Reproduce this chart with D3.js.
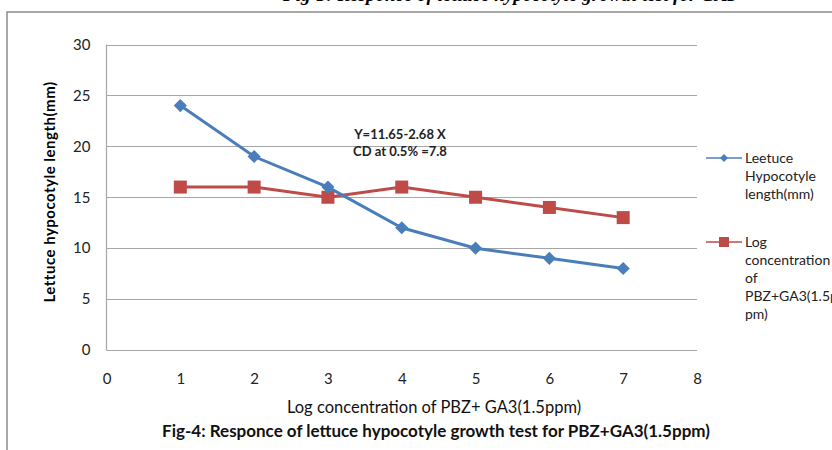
<!DOCTYPE html>
<html>
<head>
<meta charset="utf-8">
<script src="https://cdn.jsdelivr.net/npm/d3@7"></script>
<style>
  body { margin: 0; background: #fff; }
  text { font-family: Lato, "Open Sans", sans-serif; }
</style>
</head>
<body>
<div id="chart"></div>
<script>
const xValues = [1, 2, 3, 4, 5, 6, 7];
const lettuceLength = [24, 19, 16, 12, 10, 9, 8];
const logConc = [16, 16, 15, 16, 15, 14, 13];
const xTicks = [0, 1, 2, 3, 4, 5, 6, 7, 8];
const yTicks = [0, 5, 10, 15, 20, 25, 30];
const legendBlue = ["Leetuce", "Hypocotyle", "length(mm)"];
const legendRed = ["Log", "concentration", "of", "PBZ+GA3(1.5p", "pm)"];
const annotation = ["Y=11.65-2.68 X", "CD at 0.5% =7.8"];

const width = 832, height = 450;
const blue = "#4a7ebb", red = "#be4b48";

const svg = d3.select("#chart").append("svg")
  .attr("width", width)
  .attr("height", height);

// heading of the page above, mostly cut off
svg.append("text")
  .attr("x", 510).attr("y", 0.5)
  .attr("text-anchor", "middle")
  .style("font-family", "'Liberation Serif', serif")
  .style("font-style", "italic")
  .style("font-weight", "bold")
  .style("font-size", "19px")
  .text("Fig-3: Responce of lettuce hypocotyle growth test for GA3");

// outer frame
svg.append("path")
  .attr("d", `M7,${height} V12 H${width}`)
  .attr("fill", "none")
  .attr("stroke", "#8c8c8c")
  .attr("stroke-width", 1.5);

const x = d3.scaleLinear().domain([0, 8]).range([106.5, 697]);
const y = d3.scaleLinear().domain([0, 30]).range([350, 44.5]);

// gridlines
svg.append("g")
  .selectAll("line")
  .data(yTicks)
  .join("line")
  .attr("x1", x(0)).attr("x2", x(8))
  .attr("y1", d => Math.round(y(d)) + 0.5)
  .attr("y2", d => Math.round(y(d)) + 0.5)
  .attr("stroke", "#a6a6a6")
  .attr("stroke-width", 1.2);

svg.append("line")
  .attr("x1", x(0)).attr("x2", x(0))
  .attr("y1", y(30)).attr("y2", y(0))
  .attr("stroke", "#a6a6a6")
  .attr("stroke-width", 1.2);

// axes, labels only
const yAxis = svg.append("g")
  .attr("transform", `translate(${x(0)},0)`)
  .call(d3.axisLeft(y).tickValues(yTicks).tickSize(0).tickPadding(16));
yAxis.select(".domain").remove();
yAxis.selectAll(".tick text")
  .style("font-family", "Lato, sans-serif")
  .style("font-size", "15px")
  .attr("fill", "#222");

const xAxis = svg.append("g")
  .attr("transform", `translate(0,${y(0)})`)
  .call(d3.axisBottom(x).tickValues(xTicks).tickSize(0).tickPadding(23));
xAxis.select(".domain").remove();
xAxis.selectAll(".tick text")
  .style("font-family", "Lato, sans-serif")
  .style("font-size", "15px")
  .attr("fill", "#222");

// series
const line = d3.line().x(d => x(d[0])).y(d => y(d[1]));
const bluePts = xValues.map((v, i) => [v, lettuceLength[i]]);
const redPts = xValues.map((v, i) => [v, logConc[i]]);

svg.append("path")
  .datum(redPts)
  .attr("d", line)
  .attr("fill", "none")
  .attr("stroke", red)
  .attr("stroke-width", 3);

svg.append("g")
  .selectAll("rect")
  .data(redPts)
  .join("rect")
  .attr("x", d => x(d[0]) - 6.5)
  .attr("y", d => y(d[1]) - 6.5)
  .attr("width", 13).attr("height", 13)
  .attr("fill", red);

svg.append("path")
  .datum(bluePts)
  .attr("d", line)
  .attr("fill", "none")
  .attr("stroke", blue)
  .attr("stroke-width", 3);

const diamond = d3.symbol().type(d3.symbolDiamond2).size(110);
svg.append("g")
  .selectAll("path")
  .data(bluePts)
  .join("path")
  .attr("transform", d => `translate(${x(d[0])},${y(d[1])})`)
  .attr("d", diamond)
  .attr("fill", blue);

// annotation
svg.append("g")
  .selectAll("text")
  .data(annotation)
  .join("text")
  .attr("x", 400)
  .attr("y", (d, i) => 139 + i * 17)
  .attr("text-anchor", "middle")
  .style("font-size", "13px")
  .style("font-weight", "bold")
  .attr("fill", "#222")
  .text(d => d);

// axis titles
svg.append("text")
  .attr("transform", "translate(55,192) rotate(-90)")
  .attr("text-anchor", "middle")
  .style("font-size", "15px")
  .style("font-weight", "bold")
  .style("letter-spacing", "0.5px")
  .text("Lettuce hypocotyle length(mm)");

svg.append("text")
  .attr("x", 434).attr("y", 413)
  .attr("text-anchor", "middle")
  .style("font-size", "16.5px")
  .attr("fill", "#111")
  .text("Log concentration  of PBZ+ GA3(1.5ppm)");

svg.append("text")
  .attr("x", 436).attr("y", 437)
  .attr("text-anchor", "middle")
  .style("font-size", "17px")
  .style("font-weight", "bold")
  .attr("fill", "#111")
  .text("Fig-4: Responce  of  lettuce hypocotyle  growth test for  PBZ+GA3(1.5ppm)");

// legend
function legendItem(lines, color, cy, marker) {
  const g = svg.append("g");
  g.append("line")
    .attr("x1", 706).attr("x2", 742)
    .attr("y1", cy).attr("y2", cy)
    .attr("stroke", color).attr("stroke-width", 1.5);
  if (marker === "diamond") {
    g.append("path")
      .attr("transform", `translate(724,${cy})`)
      .attr("d", d3.symbol().type(d3.symbolDiamond2).size(40))
      .attr("fill", color);
  } else {
    g.append("rect")
      .attr("x", 719).attr("y", cy - 5)
      .attr("width", 10).attr("height", 10)
      .attr("fill", color);
  }
  g.selectAll("text")
    .data(lines)
    .join("text")
    .attr("x", 745)
    .attr("y", (d, i) => cy + 5 + i * 18)
    .style("font-size", "14px")
    .attr("fill", "#222")
    .text(d => d);
}
legendItem(legendBlue, blue, 158, "diamond");
legendItem(legendRed, red, 242, "square");
</script>
</body>
</html>
